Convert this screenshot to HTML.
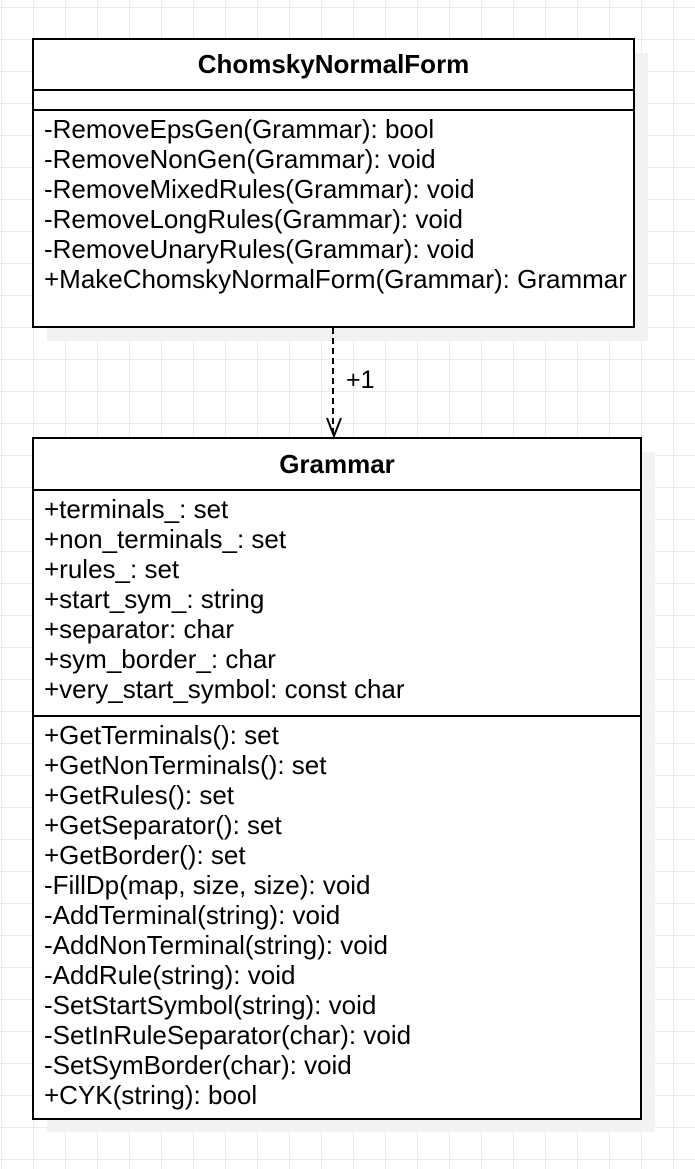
<!DOCTYPE html>
<html><head><style>
html,body{margin:0;padding:0}
body{width:695px;height:1169px;position:relative;overflow:hidden;background-color:#fff;
background-image:linear-gradient(#ebebeb 1px,transparent 1px),linear-gradient(90deg,#ebebeb 1px,transparent 1px);
background-size:32px 32px;background-position:1px 7px;font-family:"Liberation Sans",Arial,sans-serif;color:#000}
.sh{position:absolute;background:#f2f2f2}
.box{position:absolute;background:#fff;border:2px solid #000;box-sizing:border-box}
.hd{position:absolute;left:0;right:0;text-align:center;font-weight:bold;font-size:26px}
.ln{position:absolute;left:0;right:0;height:2px;background:#000}
.t{position:absolute;left:10px;font-size:26px;line-height:30px;white-space:pre}
</style></head><body>
<div class="sh" style="left:47px;top:53px;width:601px;height:288px"></div>
<div class="box" style="left:32px;top:38px;width:603px;height:290px">
 <div class="hd" style="top:0;height:49px;line-height:49px">ChomskyNormalForm</div>
 <div class="ln" style="top:49px"></div>
 <div class="ln" style="top:69px"></div>
 <div class="t" style="top:74px">-RemoveEpsGen(Grammar): bool
-RemoveNonGen(Grammar): void
-RemoveMixedRules(Grammar): void
-RemoveLongRules(Grammar): void
-RemoveUnaryRules(Grammar): void
+MakeChomskyNormalForm(Grammar): Grammar</div>
</div>
<div class="sh" style="left:47px;top:452px;width:608px;height:680px"></div>
<div class="box" style="left:32px;top:437px;width:610px;height:683px">
 <div class="hd" style="top:0;height:50px;line-height:50px">Grammar</div>
 <div class="ln" style="top:50px"></div>
 <div class="t" style="top:55px">+terminals_: set
+non_terminals_: set
+rules_: set
+start_sym_: string
+separator: char
+sym_border_: char
+very_start_symbol: const char</div>
 <div class="ln" style="top:276px"></div>
 <div class="t" style="top:281px">+GetTerminals(): set
+GetNonTerminals(): set
+GetRules(): set
+GetSeparator(): set
+GetBorder(): set
-FillDp(map, size, size): void
-AddTerminal(string): void
-AddNonTerminal(string): void
-AddRule(string): void
-SetStartSymbol(string): void
-SetInRuleSeparator(char): void
-SetSymBorder(char): void
+CYK(string): bool</div>
</div>
<svg style="position:absolute;left:0;top:0" width="695" height="1169">
 <line x1="333" y1="328" x2="333" y2="436" stroke="#000" stroke-width="2" stroke-dasharray="6,4"/>
 <polyline points="327,418 334,436 341,418" fill="none" stroke="#000" stroke-width="2"/>
 <text x="346" y="388" font-family="Liberation Sans,Arial,sans-serif" font-size="25">+1</text>
</svg>
</body></html>
